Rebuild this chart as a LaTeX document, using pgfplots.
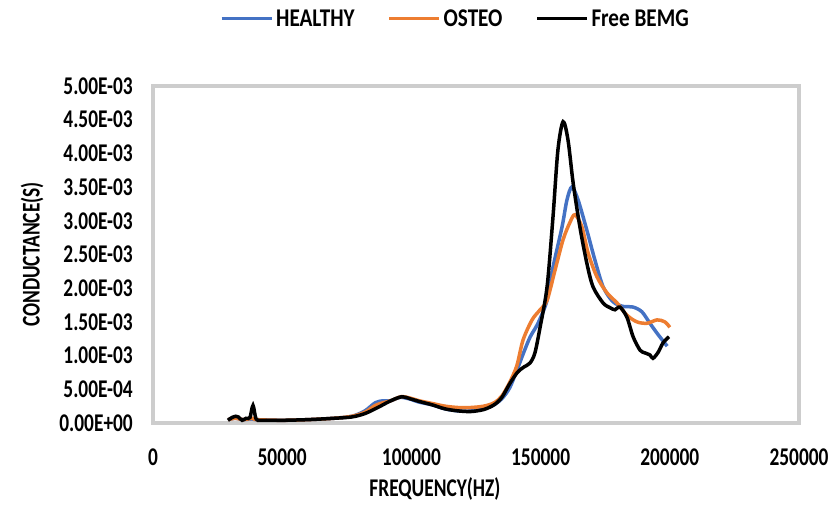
\documentclass[border=0pt]{standalone}
\usepackage{fontspec}
\usepackage{pgfplots}
\pgfplotsset{compat=1.18}
\setmainfont{Carlito}
\newfontfamily\axfontfam{Carlito}[FakeStretch=0.76]
\newfontfamily\legfontfam{Carlito}[FakeStretch=0.83]
\newcommand\axfont{\axfontfam\bfseries\fontsize{25.5}{29}\selectfont}
\newcommand\legfont{\legfontfam\bfseries\fontsize{25.5}{29}\selectfont}
\definecolor{healthy}{HTML}{4472C4}
\definecolor{osteo}{HTML}{ED7D31}
\definecolor{framegray}{RGB}{205,205,205}

\pgfplotstableread{
x y
29000 0.00005
32000 0.00007
35000 0.00005
38000 0.00006
40000 0.00005
50000 0.00004
60000 0.00005
70000 0.00007
77000 0.00010
82000 0.00018
86000 0.00030
89000 0.00033
92000 0.00033
95500 0.00038
99000 0.00036
103000 0.00031
108000 0.00027
113000 0.00021
118000 0.00018
123000 0.00018
128000 0.00021
132000 0.00027
135000 0.00036
138000 0.00052
141000 0.00080
143500 0.00105
146000 0.00128
149000 0.00148
152500 0.00182
154800 0.00231
158300 0.00291
160200 0.00331
162100 0.00350
164500 0.00331
167900 0.00286
171000 0.00242
174200 0.00202
178000 0.00180
181900 0.00173
185800 0.00172
189200 0.00165
192300 0.00148
195500 0.00131
199000 0.00114
}\healthy

\pgfplotstableread{
x y
29000 0.00005
32000 0.00007
35000 0.00005
38500 0.00007
40000 0.00005
50000 0.00004
60000 0.00005
70000 0.00007
77000 0.00010
82000 0.00016
86000 0.00026
89000 0.00030
92000 0.00033
96000 0.00039
99500 0.00037
103000 0.00033
108000 0.00029
113000 0.00025
118000 0.00023
123000 0.00023
128000 0.00025
132000 0.00030
135000 0.00040
138000 0.00060
140800 0.00085
143200 0.00123
146700 0.00153
149800 0.00168
152500 0.00182
155600 0.00227
158700 0.00272
161400 0.00298
163300 0.00309
166000 0.00291
168400 0.00252
171800 0.00217
175700 0.00193
179600 0.00178
183400 0.00160
187300 0.00150
191200 0.00148
195100 0.00153
198100 0.00150
200000 0.00142
}\osteo

\pgfplotstableread{
x y
29000 0.00004
30500 0.00008
32000 0.00010
33000 0.00009
34500 0.00004
36000 0.00007
37500 0.00008
38700 0.00026
39900 0.00006
42000 0.00004
50000 0.00004
60000 0.00005
70000 0.00007
77000 0.00009
82000 0.00014
87000 0.00023
92000 0.00033
96300 0.00039
99500 0.00036
103000 0.00032
108000 0.00027
113000 0.00021
118000 0.00018
123000 0.00017
128000 0.00020
132000 0.00027
135000 0.00038
138000 0.00058
141000 0.00075
143500 0.00083
145900 0.00089
147800 0.00104
149800 0.00142
152500 0.00202
154800 0.00306
156700 0.00405
158700 0.00447
160600 0.00420
162600 0.00356
165200 0.00291
167900 0.00237
170300 0.00202
174200 0.00178
176900 0.00171
178800 0.00168
180700 0.00172
183400 0.00157
185800 0.00128
188500 0.00108
190400 0.00104
192300 0.00101
193500 0.00096
195500 0.00105
197400 0.00119
199700 0.00128
}\bemg

\begin{document}
\begin{tikzpicture}
\path[use as bounding box] (-153pt,-81pt) rectangle (677pt,423pt);
\begin{axis}[
  at={(0,0)}, anchor=south west,
  scale only axis, width=646pt, height=337pt,
  xmin=0, xmax=250000, ymin=0, ymax=0.005,
  scaled ticks=false,
  xtick={0,50000,100000,150000,200000,250000},
  xticklabels={0,50000,100000,150000,200000,250000},
  ytick={0,0.0005,0.001,0.0015,0.002,0.0025,0.003,0.0035,0.004,0.0045,0.005},
  yticklabels={0.00E+00,5.00E-04,1.00E-03,1.50E-03,2.00E-03,2.50E-03,3.00E-03,3.50E-03,4.00E-03,4.50E-03,5.00E-03},
  major tick length=0pt,
  tick style={draw=none},
  axis line style={draw=framegray, line width=3.5pt},
  xticklabel style={font=\axfont, inner sep=0pt, anchor=north, yshift=-26pt},
  yticklabel style={font=\axfont, inner sep=0pt, anchor=east, xshift=-20pt},
  xlabel={FREQUENCY(HZ)},
  ylabel={CONDUCTANCE(S)},
  xlabel style={font=\axfont, at={(axis description cs:0.4365,-0.196)}, anchor=center, inner sep=0pt},
  ylabel style={font=\axfont, at={(axis description cs:-0.1873,0.5)}, anchor=center, rotate=0, inner sep=0pt},
  legend columns=3,
  legend style={at={(axis description cs:0.469,1.199)}, anchor=center, draw=none, fill=none, font=\legfont,
    /tikz/every even column/.append style={column sep=30pt}, nodes={inner xsep=3pt}},
  legend image code/.code={\draw[#1, line width=3pt] (0pt,0pt) -- (50pt,0pt);},
]
\addplot[healthy, line width=3.5pt, smooth, tension=0.5] table {\healthy};
\addlegendentry{HEALTHY}
\addplot[osteo, line width=3.5pt, smooth, tension=0.5] table {\osteo};
\addlegendentry{OSTEO}
\addplot[black, line width=3.5pt, smooth, tension=0.5] table {\bemg};
\addlegendentry{Free BEMG}
\end{axis}
\end{tikzpicture}
\end{document}
